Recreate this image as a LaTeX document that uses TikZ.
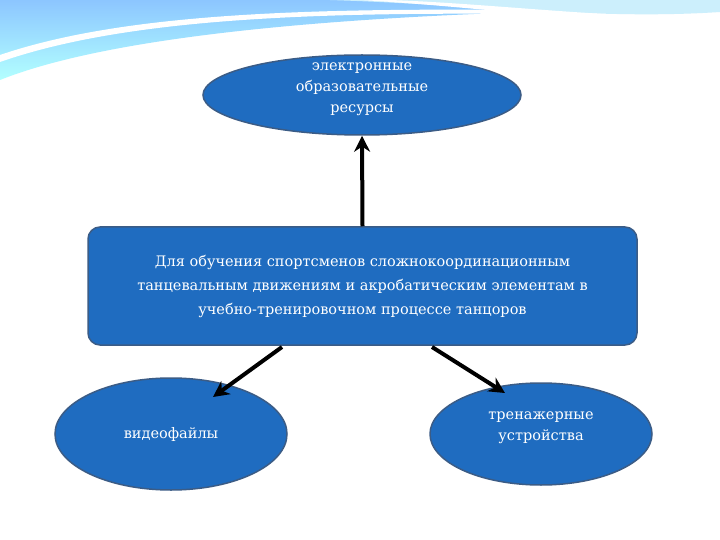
\documentclass[tikz,border=0pt]{standalone}
\usepackage{fontspec}
\setmainfont{DejaVu Serif}
\usetikzlibrary{shapes.geometric,arrows.meta}
\definecolor{fillb}{HTML}{1F6CC0}
\definecolor{edgeb}{HTML}{3B5C86}
\begin{document}
\begin{tikzpicture}[x=1pt,y=-1pt,
  blob/.style={ellipse,fill=fillb,draw=edgeb,line width=1.5pt,text=white,align=center,font=\fontsize{14.5}{21}\selectfont,inner sep=0pt},
  lbl/.style={text=white,align=center,font=\fontsize{14.5}{21}\selectfont},
  arr/.style={-{Stealth[length=16pt,width=16pt]},line width=4pt,black}]
\useasboundingbox (0,0) rectangle (720,540);
\fill[white] (0,0) rectangle (720,540);
% top banner
\shade[top color=cyan!50!blue!45,bottom color=cyan!30] (0,0) -- (720,0) -- (720,8) .. controls (500,10) and (150,20) .. (0,80) -- cycle;
\fill[white] (0,62) .. controls (120,20) and (300,12) .. (520,14) -- (520,10) .. controls (300,8) and (120,14) .. (0,55) -- cycle;
\fill[cyan!20] (330,0) .. controls (480,5) and (600,20) .. (720,12) -- (720,0) -- cycle;
\fill[white] (360,0) .. controls (500,8) and (620,28) .. (720,22) -- (720,16) .. controls (620,20) and (500,4) .. (390,0) -- cycle;
\node[blob,minimum width=318,minimum height=80] (top) at (362,95) {};
\node[lbl] (toptext) at (362,89) {электронные\\образовательные\\ресурсы};
\node[rectangle,rounded corners=12pt,fill=fillb,draw=edgeb,line width=1.5pt,text=white,align=center,font=\fontsize{14.5}{24}\selectfont,minimum width=549,minimum height=118] (main) at (362.5,286) {Для обучения спортсменов сложнокоординационным\\танцевальным движениям и акробатическим элементам в\\учебно-тренировочном процессе танцоров};
\node[blob,minimum width=232,minimum height=112] (left) at (171,434) {видеофайлы};
\node[blob,minimum width=222,minimum height=102] (right) at (541,434) {};
\node[lbl] (righttext) at (541,428) {тренажерные\\устройства};
\draw[arr] (main.north) -- (top.south);
\draw[arr] (282,347) -- (213,397);
\draw[arr] (432,347) -- (505,393);
\end{tikzpicture}
\end{document}
